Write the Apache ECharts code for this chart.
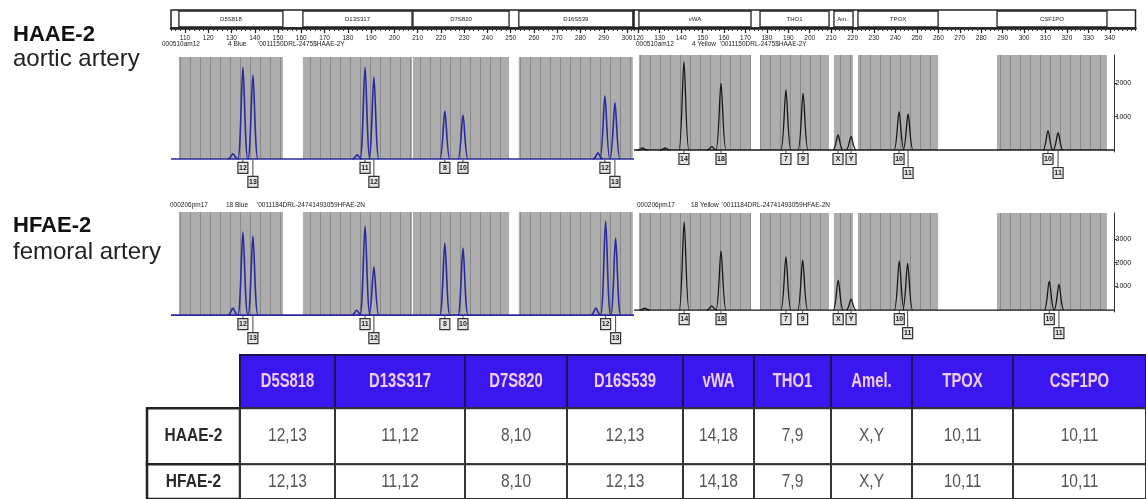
<!DOCTYPE html>
<html>
<head>
<meta charset="utf-8">
<title>STR profile HAAE-2 / HFAE-2</title>
<script src="https://cdn.jsdelivr.net/npm/echarts@6/dist/echarts.min.js"></script>
<style>
  html, body { margin: 0; padding: 0; background: #fff; }
  #chart { width: 1146px; height: 499px; }
</style>
</head>
<body>
<div id="chart"></div>
<script>
// table
const markers = ['D5S818', 'D13S317', 'D7S820', 'D16S539', 'vWA', 'THO1', 'Amel.', 'TPOX', 'CSF1PO'];
const samples = ['HAAE-2', 'HFAE-2'];
const haaeCalls = ['12,13', '11,12', '8,10', '12,13', '14,18', '7,9', 'X,Y', '10,11', '10,11'];
const hfaeCalls = ['12,13', '11,12', '8,10', '12,13', '14,18', '7,9', 'X,Y', '10,11', '10,11'];

// marker bins in bp: [name, start, end]
const blueBins = [['D5S818', 107.4, 152.1], ['D13S317', 160.7, 207.6], ['D7S820', 208.0, 249.3], ['D16S539', 253.5, 302.5]];
const yellowBins = [['vWA', 120.3, 172.6], ['THO1', 176.8, 209.0], ['Amelogenin', 211.3, 220.2], ['TPOX', 222.5, 259.9], ['CSF1PO', 287.4, 338.7]];

// size ruler labels (bp) and RFU labels
const blueRulerTicks = [110, 120, 130, 140, 150, 160, 170, 180, 190, 200, 210, 220, 230, 240, 250, 260, 270, 280, 290, 300];
const yellowRulerTicks = [120, 130, 140, 150, 160, 170, 180, 190, 200, 210, 220, 230, 240, 250, 260, 270, 280, 290, 300, 310, 320, 330, 340];
const haaeRfuTicks = [1000, 2000];
const hfaeRfuTicks = [1000, 2000, 3000];

// peaks: [size bp, height RFU, allele call]
const haaeBluePeaks = [
  [130.6, 150, ''], [134.9, 2700, '12'], [139.2, 2470, '13'],
  [184.0, 120, ''], [187.4, 2700, '11'], [191.2, 2410, '12'],
  [221.7, 1410, '8'], [229.5, 1290, '10'],
  [287.5, 180, ''], [290.5, 1850, '12'], [294.8, 1650, '13']
];
const haaeYellowPeaks = [
  [122.0, 60, ''], [132.5, 60, ''], [141.3, 2650, '14'], [154.3, 100, ''], [158.6, 2000, '18'],
  [188.9, 1800, '7'], [196.9, 1700, '9'],
  [213.2, 450, 'X'], [219.3, 400, 'Y'],
  [241.7, 1150, '10'], [245.9, 1080, '11'],
  [311.2, 580, '10'], [315.9, 520, '11']
];
const hfaeBluePeaks = [
  [130.6, 290, ''], [134.9, 3460, '12'], [139.2, 3290, '13'],
  [183.8, 200, ''], [187.4, 3710, '11'], [191.2, 2000, '12'],
  [221.7, 3000, '8'], [229.5, 2790, '10'],
  [286.6, 290, ''], [290.8, 3920, '12'], [295.1, 3210, '13']
];
const hfaeYellowPeaks = [
  [123.0, 80, ''], [141.4, 3725, '14'], [154.3, 180, ''], [158.6, 2490, '18'],
  [188.9, 2250, '7'], [196.7, 2110, '9'],
  [213.3, 1265, 'X'], [219.3, 465, 'Y'],
  [241.8, 2070, '10'], [245.7, 1970, '11'],
  [311.8, 1220, '10'], [316.3, 1085, '11']
];

// run header texts
const panelTags = [
  ['000510am12', '4 Blue', "'0011150DRL-2475$HAAE-2Y"],
  ['000510am12', '4 Yellow', "'0011150DRL-2475$HAAE-2Y"],
  ['000206pm17', '18 Blue', "'0011184DRL-24741493059HFAE-2N"],
  ['000206pm17', '18 Yellow', "'0011184DRL-24741493059HFAE-2N"]
];

const blueRange = [104, 303];
const yellowRange = [118, 342];
const FONT = "'Liberation Sans', Arial, sans-serif";

const myChart = echarts.init(document.getElementById('chart'));

// gray bin fill with ladder lines
function stripes(step) {
  const c = document.createElement('canvas');
  c.width = step;
  c.height = 8;
  const ctx = c.getContext('2d');
  ctx.fillStyle = '#adadad';
  ctx.fillRect(0, 0, step, 8);
  ctx.fillStyle = '#8a8a8a';
  ctx.fillRect(0, 0, 1, 8);
  return c;
}
const binFill = { image: stripes(10), repeat: 'repeat' };

function labelLevels(peaks) {
  let prev = null;
  return peaks.map((p) => {
    if (!p[2]) return 0;
    const lvl = prev !== null && p[0] - prev < 5 ? 1 : 0;
    prev = p[0];
    return lvl;
  });
}

// ruler box with marker name
function rulerBoxes(bins) {
  return function (params, api) {
    const p0 = api.coord([api.value(0), 1]);
    const p1 = api.coord([api.value(1), 0]);
    const w = p1[0] - p0[0];
    const h = p1[1] - p0[1];
    return {
      type: 'group',
      children: [
        { type: 'rect', shape: { x: p0[0], y: p0[1] + 1, width: w, height: h - 2 }, style: { fill: '#fff', stroke: '#222', lineWidth: 1.3 } },
        {
          type: 'text', x: p0[0] + w / 2, y: p0[1] + h / 2,
          style: { text: bins[params.dataIndex][0], fontSize: 6, fontFamily: FONT, fill: '#222', align: 'center', verticalAlign: 'middle', width: w - 3, overflow: 'truncate', ellipsis: '..' }
        }
      ]
    };
  };
}

// gray bins inside trace panels
function binAreas(params, api) {
  const cs = params.coordSys;
  const a = api.coord([api.value(0), 0]);
  const b = api.coord([api.value(1), 0]);
  return { type: 'rect', shape: { x: a[0], y: cs.y, width: b[0] - a[0], height: a[1] - cs.y }, style: { fill: binFill } };
}

// peaks and allele boxes
function peakRenderer(peaks, color, width) {
  const levels = labelLevels(peaks);
  return function (params, api) {
    const i = params.dataIndex;
    const base = api.coord([api.value(0), 0]);
    const top = api.coord([api.value(0), api.value(1)]);
    const x = base[0], yb = base[1], yt = top[1];
    const w = 5;
    const children = [{
      type: 'path',
      shape: { pathData: 'M' + (x - w) + ' ' + yb + 'C' + (x - 2.2) + ' ' + yb + ' ' + (x - 1.3) + ' ' + yt + ' ' + x + ' ' + yt + 'C' + (x + 1.3) + ' ' + yt + ' ' + (x + 2.2) + ' ' + yb + ' ' + (x + w) + ' ' + yb },
      style: { fill: 'none', stroke: color, lineWidth: width }
    }];
    const allele = peaks[i][2];
    if (allele) {
      const cy = yb + (levels[i] ? 23 : 9);
      children.push(
        { type: 'line', shape: { x1: x, y1: yb + 1, x2: x, y2: cy - 5.5 }, style: { stroke: '#444', lineWidth: 1 } },
        { type: 'rect', shape: { x: x - 5, y: cy - 5.5, width: 10, height: 11 }, style: { fill: '#e4e4e4', stroke: '#333', lineWidth: 1.2 } },
        { type: 'text', x: x, y: cy, style: { text: allele, fontSize: 7, fontWeight: 'bold', fontFamily: FONT, fill: '#222', align: 'center', verticalAlign: 'middle' } }
      );
    }
    return { type: 'group', children: children };
  };
}

// table layout
const colWidths = [93, 95, 130, 102, 116, 71, 77, 81, 101, 133];
const rowHeights = [55, 58, 36];
const colEdges = [0];
colWidths.forEach((w) => colEdges.push(colEdges[colEdges.length - 1] + w));
const rowEdges = [0];
rowHeights.forEach((h) => rowEdges.push(rowEdges[rowEdges.length - 1] + h));
const calls = [haaeCalls, hfaeCalls];
const tableCells = [];
for (let r = 0; r < rowHeights.length; r++) {
  for (let c = 0; c < colWidths.length; c++) tableCells.push([c, r]);
}

function tableCell(params, api) {
  const c = api.value(0), r = api.value(1);
  const p0 = api.coord([colEdges[c], rowEdges[r]]);
  const p1 = api.coord([colEdges[c + 1], rowEdges[r + 1]]);
  const w = p1[0] - p0[0], h = p1[1] - p0[1];
  const cx = p0[0] + w / 2, cy = p0[1] + h / 2;
  if (r === 0 && c === 0) return { type: 'group', children: [] };
  let fill = '#fff', stroke = '#333', text, ts;
  if (r === 0) {
    fill = '#3b17ef';
    stroke = '#1d1150';
    text = markers[c - 1];
    ts = { fontSize: 19.5, fontWeight: 'bold', fill: '#efcdf2', sx: 0.76 };
  } else if (c === 0) {
    stroke = '#222';
    text = samples[r - 1];
    ts = { fontSize: 18.5, fontWeight: 'bold', fill: '#2a2a2a', sx: 0.84 };
  } else {
    text = calls[r - 1][c - 1];
    ts = { fontSize: 18.5, fontWeight: 'normal', fill: '#555', sx: 0.84 };
  }
  return {
    type: 'group',
    children: [
      { type: 'rect', shape: { x: p0[0], y: p0[1], width: w, height: h }, style: { fill: fill, stroke: stroke, lineWidth: c === 0 ? 2.5 : 2 } },
      {
        type: 'text', x: cx, y: cy, scaleX: ts.sx,
        style: { text: text, fontSize: ts.fontSize, fontWeight: ts.fontWeight, fontFamily: FONT, fill: ts.fill, align: 'center', verticalAlign: 'middle' }
      }
    ]
  };
}

function tagTitle(parts, left, top, w1, w2) {
  return {
    left: left, top: top, padding: 0,
    text: '{a|' + parts[0] + '}{b|' + parts[1] + '}{c|' + parts[2] + '}',
    textStyle: {
      fontSize: 6.5, fontWeight: 'normal', color: '#222', fontFamily: FONT,
      rich: { a: { width: w1, fontSize: 6.5 }, b: { width: w2, fontSize: 6.5 }, c: { fontSize: 6.5 } }
    }
  };
}

function rulerAxes(gridIndex, range, ticks) {
  return [
    {
      gridIndex: gridIndex, type: 'value', min: range[0], max: range[1], interval: 2, position: 'bottom',
      axisLine: { lineStyle: { color: '#222', width: 2.5 } },
      axisTick: { length: 3, lineStyle: { color: '#333', width: 1 } },
      axisLabel: { show: false }, splitLine: { show: false }
    },
    {
      gridIndex: gridIndex, type: 'value', min: range[0], max: range[1], position: 'bottom',
      axisLine: { show: false },
      axisTick: { customValues: ticks, length: 5, lineStyle: { color: '#222', width: 1.2 } },
      axisLabel: { customValues: ticks, fontSize: 6.5, margin: 6.5, color: '#222', fontFamily: FONT },
      splitLine: { show: false }
    }
  ];
}

function hiddenX(gridIndex, range) {
  return { gridIndex: gridIndex, type: 'value', min: range[0], max: range[1], show: false };
}

function rfuAxis(gridIndex, min, max, ticks) {
  return {
    gridIndex: gridIndex, type: 'value', min: min, max: max, position: 'right',
    axisLine: { show: true, lineStyle: { color: '#333', width: 1 } },
    axisTick: { show: true, customValues: ticks, length: 3, lineStyle: { color: '#333' } },
    axisLabel: { customValues: ticks, formatter: (v) => String(v), fontSize: 7, margin: 1.5, color: '#111', fontFamily: FONT },
    splitLine: { show: false }
  };
}

function panelSeries(xi, yi, bins, peaks, color, width) {
  const range = xi === 4 || xi === 6 ? blueRange : yellowRange;
  return [
    { type: 'custom', xAxisIndex: xi, yAxisIndex: yi, z: 1, silent: true, renderItem: binAreas, data: bins.map((b) => [b[1], b[2]]) },
    {
      type: 'line', xAxisIndex: xi, yAxisIndex: yi, z: 2, silent: true, symbol: 'none',
      lineStyle: { color: color, width: width }, data: [[range[0], 0], [range[1], 0]]
    },
    { type: 'custom', xAxisIndex: xi, yAxisIndex: yi, z: 3, silent: true, renderItem: peakRenderer(peaks, color, width), data: peaks.map((p) => [p[0], p[1]]) }
  ];
}

const option = {
  backgroundColor: '#fff',
  animation: false,
  title: [
    {
      left: 13, top: 24, padding: 0, itemGap: 1,
      text: samples[0], subtext: 'aortic artery',
      textStyle: { fontSize: 22, fontWeight: 'bold', color: '#111', fontFamily: FONT, lineHeight: 22 },
      subtextStyle: { fontSize: 24, color: '#222', fontFamily: FONT, lineHeight: 24 }
    },
    {
      left: 13, top: 215, padding: 0, itemGap: 3,
      text: samples[1], subtext: 'femoral artery',
      textStyle: { fontSize: 22, fontWeight: 'bold', color: '#111', fontFamily: FONT, lineHeight: 22 },
      subtextStyle: { fontSize: 24, color: '#222', fontFamily: FONT, lineHeight: 24 }
    },
    tagTitle(panelTags[0], 162, 40.5, 66, 30),
    tagTitle(panelTags[1], 636, 40.5, 56, 28),
    tagTitle(panelTags[2], 170, 201.5, 56, 31),
    tagTitle(panelTags[3], 637, 201.5, 54, 31)
  ],
  grid: [
    { left: 171, top: 10, width: 463, height: 18, show: true, borderColor: '#222', borderWidth: 1.5, backgroundColor: '#fff' },
    { left: 634, top: 10, width: 501.5, height: 18, show: true, borderColor: '#222', borderWidth: 1.5, backgroundColor: '#fff' },
    { left: 171, top: 57, width: 463, height: 104 },
    { left: 634, top: 55, width: 480, height: 97 },
    { left: 171, top: 212, width: 463, height: 105 },
    { left: 634, top: 213, width: 480, height: 99 },
    { left: 147, top: 355, width: 999, height: 149 }
  ],
  xAxis: [
    ...rulerAxes(0, blueRange, blueRulerTicks),
    ...rulerAxes(1, [118, 352], yellowRulerTicks),
    hiddenX(2, blueRange),
    hiddenX(3, yellowRange),
    hiddenX(4, blueRange),
    hiddenX(5, yellowRange),
    { gridIndex: 6, type: 'value', min: 0, max: colEdges[colEdges.length - 1], show: false }
  ],
  yAxis: [
    { gridIndex: 0, type: 'value', min: 0, max: 1, show: false },
    { gridIndex: 1, type: 'value', min: 0, max: 1, show: false },
    { gridIndex: 2, type: 'value', min: -60, max: 3000, show: false },
    rfuAxis(3, -60, 2850, haaeRfuTicks),
    { gridIndex: 4, type: 'value', min: -80, max: 4295, show: false },
    rfuAxis(5, -80, 4097, hfaeRfuTicks),
    { gridIndex: 6, type: 'value', min: 0, max: rowEdges[rowEdges.length - 1], inverse: true, show: false }
  ],
  series: [
    { type: 'custom', xAxisIndex: 0, yAxisIndex: 0, silent: true, renderItem: rulerBoxes(blueBins), data: blueBins.map((b) => [b[1], b[2]]) },
    { type: 'custom', xAxisIndex: 2, yAxisIndex: 1, silent: true, renderItem: rulerBoxes(yellowBins), data: yellowBins.map((b) => [b[1], b[2]]) },
    ...panelSeries(4, 2, blueBins, haaeBluePeaks, '#2a2a9e', 1.6),
    ...panelSeries(5, 3, yellowBins, haaeYellowPeaks, '#161616', 1.3),
    ...panelSeries(6, 4, blueBins, hfaeBluePeaks, '#2a2a9e', 1.6),
    ...panelSeries(7, 5, yellowBins, hfaeYellowPeaks, '#161616', 1.3),
    { type: 'custom', xAxisIndex: 8, yAxisIndex: 6, silent: true, renderItem: tableCell, data: tableCells }
  ]
};

myChart.setOption(option);
</script>
</body>
</html>
